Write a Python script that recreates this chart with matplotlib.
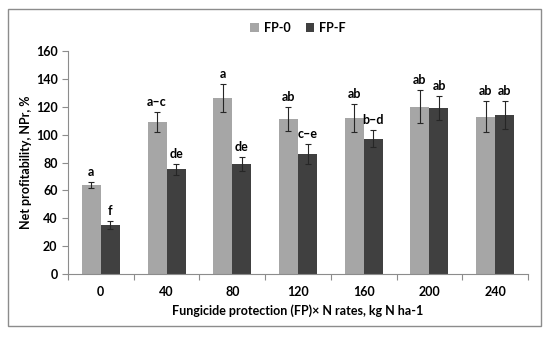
import matplotlib.pyplot as plt
import numpy as np
from matplotlib.patches import Rectangle

plt.rcParams['font.family'] = ['Lato', 'DejaVu Sans']
plt.rcParams['font.weight'] = 'bold'

rates = ['0', '40', '80', '120', '160', '200', '240']
fp0 = [64, 109, 126, 111, 112, 120, 113]
fp0_err = [2, 7, 10, 8.5, 10, 12, 11]
fpf = [35, 75, 79, 86, 97, 119, 114]
fpf_err = [3, 4, 5, 7, 6, 8.5, 10]
fp0_lab = ['a', 'a\u2013c', 'a', 'ab', 'ab', 'ab', 'ab']
fpf_lab = ['f', 'de', 'de', 'c\u2013e', 'b\u2013d', 'ab', 'ab']

fig = plt.figure(figsize=(5.5, 3.37), dpi=100)
ax = fig.add_axes([68/550, 1-274/337, 460/550, 223/337])

# outer frame like the Excel chart area
fig.patches.append(Rectangle((8/550, 1-326/337), 533/550, 317/337,
                             transform=fig.transFigure, fill=False,
                             edgecolor='#8c8c8c', linewidth=1))

x = np.arange(len(rates))
w = 0.29
ax.bar(x - w/2, fp0, w, color='#a6a6a6', label='FP-0')
ax.bar(x + w/2, fpf, w, color='#404040', label='FP-F')
ax.errorbar(x - w/2, fp0, yerr=fp0_err, fmt='none', ecolor='#262626',
            elinewidth=0.8, capsize=2, capthick=0.8)
ax.errorbar(x + w/2, fpf, yerr=fpf_err, fmt='none', ecolor='#262626',
            elinewidth=0.8, capsize=2, capthick=0.8)

for i in range(len(rates)):
    ax.annotate(fp0_lab[i], (x[i] - w/2, fp0[i] + fp0_err[i]), xytext=(0, 3),
                textcoords='offset points', ha='center', va='bottom', fontsize=9)
    ax.annotate(fpf_lab[i], (x[i] + w/2, fpf[i] + fpf_err[i]), xytext=(0, 3),
                textcoords='offset points', ha='center', va='bottom', fontsize=9)

ax.set_xlim(-0.5, len(rates) - 0.5)
ax.set_ylim(0, 160)
ax.set_yticks(np.arange(0, 161, 20))
ax.set_xticks(np.arange(-0.5, len(rates), 1))
ax.set_xticklabels([])
ax.set_xticks(x, minor=True)
ax.set_xticklabels(rates, minor=True)
ax.tick_params(axis='x', which='minor', length=0, pad=9, labelsize=9)
ax.tick_params(axis='x', which='major', length=4, color='#8c8c8c')
ax.tick_params(axis='y', length=4, color='#8c8c8c', labelsize=9)

for s in ['top', 'right']:
    ax.spines[s].set_visible(False)
for s in ['left', 'bottom']:
    ax.spines[s].set_color('#8c8c8c')

ax.set_ylabel('Net profitability, NPr, %', fontsize=9, fontweight='bold')
ax.yaxis.set_label_coords(-0.078, 0.5)
ax.set_xlabel('Fungicide protection (FP)\u00d7 N rates, kg N ha-1', fontsize=9,
              fontweight='bold', labelpad=4)

ax.legend(loc='upper center', bbox_to_anchor=(0.5, 1.18), ncol=2, frameon=False,
          fontsize=9, handlelength=0.7, handleheight=0.7, columnspacing=1.2,
          handletextpad=0.4)

fig.savefig('out.png', dpi=100)
